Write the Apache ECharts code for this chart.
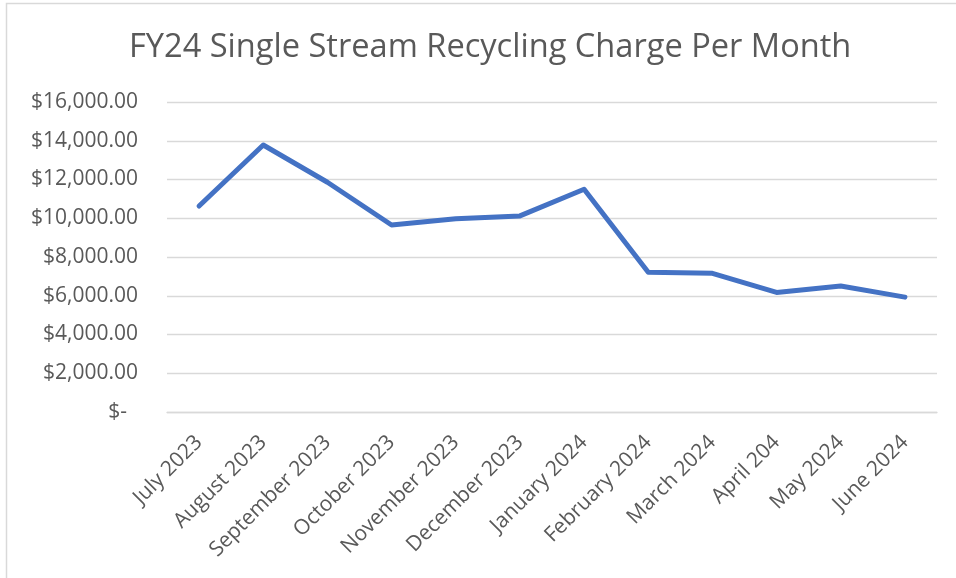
<!DOCTYPE html>
<html>
<head>
<meta charset="utf-8">
<script src="https://cdn.jsdelivr.net/npm/echarts@6/dist/echarts.min.js"></script>
<style>
html,body{margin:0;padding:0;background:#fff;}
#c{width:956px;height:578px;}
</style>
</head>
<body>
<div id="c"></div>
<script>
const titleText = "FY24 Single Stream Recycling Charge Per Month";
const categories = ["July 2023","August 2023","September 2023","October 2023","November 2023","December 2023","January 2024","February 2024","March 2024","April 204","May 2024","June 2024"];
const charges = [10630, 13780, 11860, 9650, 9980, 10120, 11500, 7210, 7160, 6170, 6500, 5930];
const yTicks = [0, 2000, 4000, 6000, 8000, 10000, 12000, 14000, 16000];

const FONT = "'Open Sans', 'Noto Sans', sans-serif";
function fmt(v){
  if (v === 0) return "$-  ";
  return "$" + v.toLocaleString("en-US",{minimumFractionDigits:2,maximumFractionDigits:2});
}
const chart = echarts.init(document.getElementById('c'), null, {renderer:'canvas'});
chart.setOption({
  backgroundColor:'#fff',
  animation:false,
  graphic:[{type:'rect',shape:{x:6.5,y:3.5,width:1000,height:1000},style:{fill:'none',stroke:'#d9d9d9',lineWidth:1.5},silent:true}],
  title:{text:titleText,left:124,top:26,textStyle:{fontFamily:FONT,fontWeight:'normal',fontSize:32.6,color:'#595959'}},
  grid:{left:167,right:19,top:102,bottom:166,containLabel:false},
  xAxis:{type:'category',data:categories,boundaryGap:true,
    axisLine:{show:true,lineStyle:{color:'#d9d9d9',width:1.3}},
    axisTick:{show:false},
    axisLabel:{rotate:45,interval:0,margin:27,fontFamily:FONT,fontSize:21,color:'#595959'}},
  yAxis:{type:'value',min:yTicks[0],max:yTicks[yTicks.length-1],interval:2000,
    axisLine:{show:false},axisTick:{show:false},
    splitLine:{lineStyle:{color:'#d9d9d9',width:1.3}},
    axisLabel:{formatter:fmt,margin:29,fontFamily:FONT,fontSize:21,color:'#595959'}},
  series:[{type:'line',data:charges,showSymbol:false,symbol:'none',
    lineStyle:{color:'#4472C4',width:5,cap:'round',join:'round'}}]
});
</script>
</body>
</html>
